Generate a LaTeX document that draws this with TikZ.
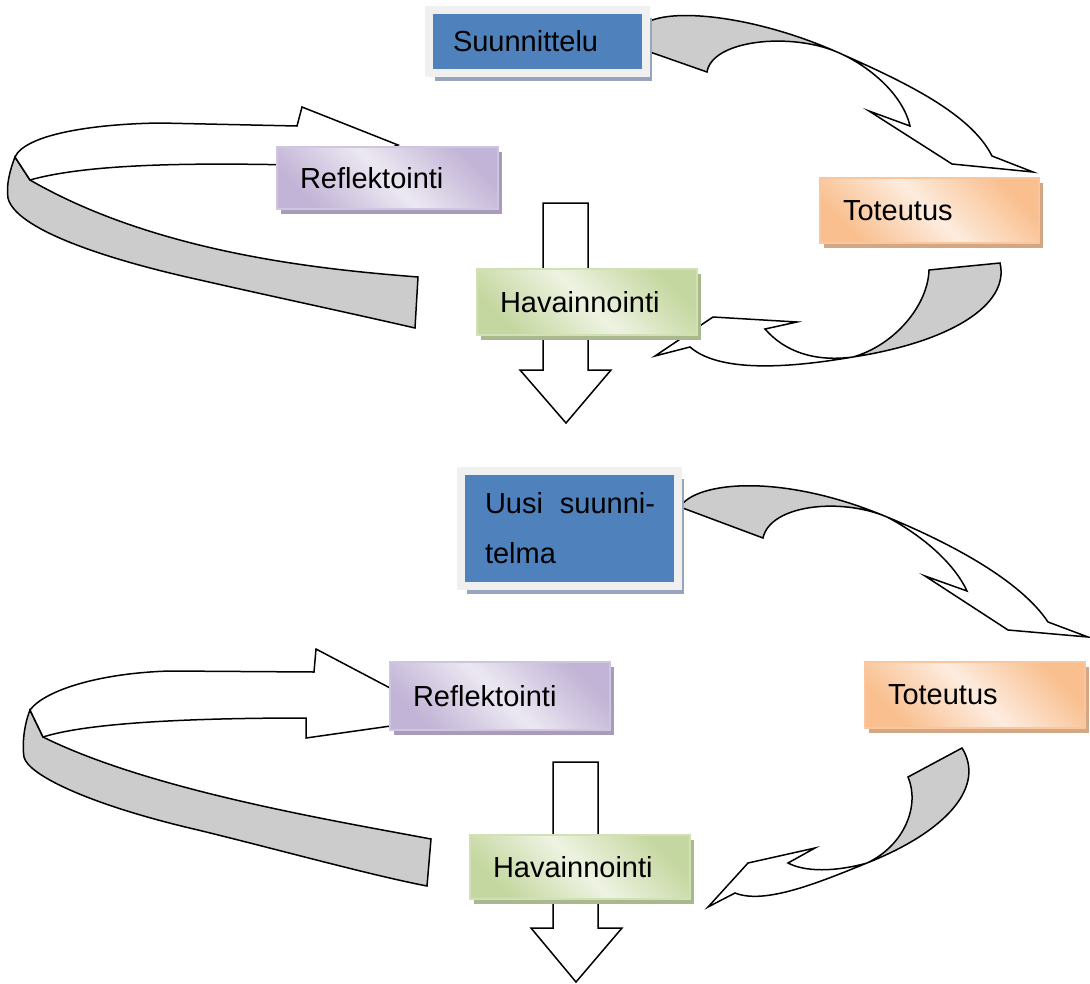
\documentclass[tikz,border=0pt]{standalone}
\usepackage{fontspec}
\setmainfont{Liberation Sans}
\usetikzlibrary{shadows}
\definecolor{blueF}{HTML}{4F81BD}
\definecolor{frameC}{HTML}{F0F0F0}
\definecolor{shBlue}{HTML}{96A5BB}
\definecolor{purD}{HTML}{C2B4D6}
\definecolor{purL}{HTML}{ECE8F2}
\definecolor{purB}{HTML}{CFC5DE}
\definecolor{shPur}{HTML}{A99CBA}
\definecolor{orD}{HTML}{F9BF8E}
\definecolor{orL}{HTML}{FDECDF}
\definecolor{orB}{HTML}{FAC69E}
\definecolor{shOr}{HTML}{D4A784}
\definecolor{grD}{HTML}{C5D7A0}
\definecolor{grL}{HTML}{EEF3E2}
\definecolor{grB}{HTML}{D2E0B6}
\definecolor{shGr}{HTML}{A9B98E}
\definecolor{ribbon}{HTML}{CCCCCC}
\tikzset{
  ribfront/.style={draw=black, line width=1.5pt, line join=miter, fill=white},
  ribback/.style={draw=black, line width=1.5pt, line join=miter, fill=ribbon},
  txt/.style={font=\fontsize{29}{35}\selectfont, align=left, inner xsep=23pt, inner ysep=0pt, text=black},
  bluebox/.style={txt, inner xsep=24pt, fill=blueF, draw=frameC, line width=8pt,
    drop shadow={fill=shBlue, opacity=1, shadow xshift=6pt, shadow yshift=-8pt}},
  purbox/.style={txt, draw=purB, line width=1.5pt, left color=purD, right color=purD, middle color=purL, shading angle=135,
    drop shadow={fill=shPur, opacity=1, shadow xshift=4pt, shadow yshift=-5pt}},
  orbox/.style={txt, draw=orB, line width=1.5pt, left color=orD, right color=orD, middle color=orL, shading angle=135,
    drop shadow={fill=shOr, opacity=1, shadow xshift=4pt, shadow yshift=-5pt}},
  grbox/.style={txt, draw=grB, line width=1.5pt, left color=grD, right color=grD, middle color=grL, shading angle=135,
    drop shadow={fill=shGr, opacity=1, shadow xshift=4pt, shadow yshift=-5pt}}
}
\begin{document}
\begin{tikzpicture}[x=1pt,y=-1pt]
\useasboundingbox (0,0) rectangle (1090,983);

% ---------- down arrows ----------
\draw[ribfront] (543,203) -- (588,203) -- (588,370) -- (611,370) -- (566,423) -- (520,370) -- (543,370) -- cycle;
\draw[ribfront] (553,762) -- (598,762) -- (598,928) -- (622,928) -- (576,982) -- (531,928) -- (553,928) -- cycle;

% ---------- arrow A: Suunnittelu -> Toteutus ----------
\draw[ribback] (650,21) .. controls (680,8) and (760,18) .. (837,52)
  .. controls (790,32) and (712,40) .. (707,72) -- (650,52) -- cycle;
\draw[ribfront] (837,52) .. controls (900,80) and (970,112) .. (992,156) -- (1033,172) -- (952,164) -- (869,111) -- (910,126)
  .. controls (903,95) and (870,66) .. (837,52) -- cycle;

% ---------- arrow B: Toteutus -> Havainnointi ----------
\draw[ribback] (929,270) -- (1000,263) .. controls (1010,305) and (950,342) .. (853,357)
  .. controls (895,345) and (928,305) .. (929,270) -- cycle;
\draw[ribfront] (853,357) .. controls (800,366) and (722,375) .. (690,347) -- (655,356) -- (713,317) -- (797,322) -- (765,329)
  .. controls (785,352) and (815,362) .. (853,357) -- cycle;

% ---------- arrow C: loop to Reflektointi (top) ----------
\draw[ribback] (15,157) .. controls (10,170) and (6,185) .. (8,198) .. controls (15,228) and (100,258) .. (200,280)
  .. controls (270,296) and (350,313) .. (415,328) -- (418,277) .. controls (330,270) and (160,255) .. (30,180) -- cycle;
\draw[ribfront] (15,157) .. controls (25,135) and (90,124) .. (160,123) -- (297,126) -- (302,107) -- (398,145) -- (300,184) -- (295,165)
  .. controls (200,163) and (90,163) .. (30,180) -- cycle;

% ---------- arrow D: loop to Reflektointi (bottom) ----------
\draw[ribback] (30,710) .. controls (24,725) and (22,745) .. (24,757) .. controls (28,775) and (90,805) .. (198,830)
  .. controls (280,850) and (370,875) .. (427,886) -- (431,839) .. controls (330,820) and (150,790) .. (43,737) -- cycle;
\draw[ribfront] (30,710) .. controls (45,690) and (100,673) .. (170,671) -- (314,672) -- (316,649) -- (447,718) -- (306,738) -- (306,718)
  .. controls (200,718) and (90,722) .. (43,737) -- cycle;

% ---------- arrow E: Uusi suunnitelma -> Toteutus ----------
\draw[ribback] (680,507) .. controls (695,482) and (780,472) .. (887,517)
  .. controls (840,497) and (770,505) .. (763,538) -- cycle;
\draw[ribfront] (887,517) .. controls (950,543) and (1020,580) .. (1048,622) -- (1088,637) -- (1008,630) -- (925,576) -- (967,591)
  .. controls (955,565) and (925,537) .. (887,517) -- cycle;

% ---------- arrow F: Toteutus -> Havainnointi (bottom) ----------
\draw[ribback] (908,777) -- (962,748) .. controls (985,785) and (950,830) .. (867,863)
  .. controls (905,845) and (920,805) .. (908,777) -- cycle;
\draw[ribfront] (867,863) .. controls (820,882) and (765,905) .. (735,893) -- (708,907) -- (748,863) -- (815,848) -- (788,863)
  .. controls (805,872) and (835,872) .. (867,863) -- cycle;

% ---------- boxes ----------
\node[bluebox, minimum width=217pt, minimum height=63pt, text width=169pt] (plan1) at (537.5,41.5) {Suunnittelu};
\node[purbox, minimum width=221pt, minimum height=62pt, text width=175pt] (refl1) at (387.5,178) {Reflektointi};
\node[orbox, minimum width=219pt, minimum height=65pt, text width=173pt] (tot1) at (929.5,210.5) {Toteutus};
\node[grbox, minimum width=220pt, minimum height=66pt, text width=174pt] (hav1) at (587,302) {Havainnointi};

\node[bluebox, minimum width=217pt, minimum height=115pt, text width=169pt, font=\fontsize{29}{50}\selectfont] (plan2) at (569.5,528.5) {\mbox{Uusi\hspace{17pt}suunni-}\\telma};
\node[purbox, minimum width=220pt, minimum height=68pt, text width=174pt] (refl2) at (500,696) {Reflektointi};
\node[orbox, minimum width=220pt, minimum height=66pt, text width=174pt] (tot2) at (975,695) {Toteutus};
\node[grbox, minimum width=220pt, minimum height=64pt, text width=174pt] (hav2) at (580,867) {Havainnointi};
\end{tikzpicture}
\end{document}
